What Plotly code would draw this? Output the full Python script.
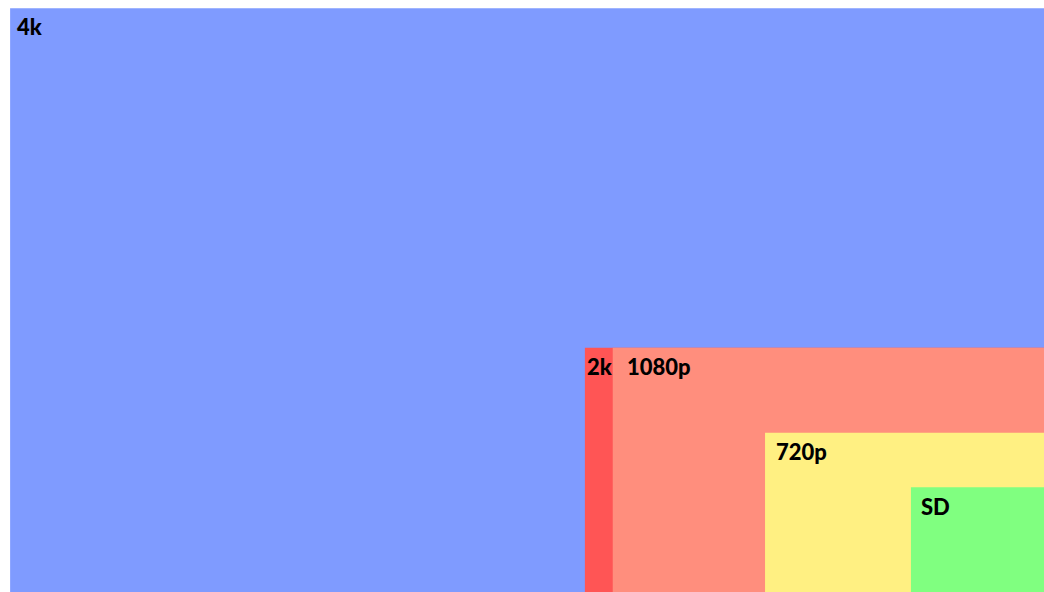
import plotly.graph_objects as go

# Data (resolution units; rectangles anchored bottom-right)
labels = ["4k", "2k", "1080p", "720p", "SD"]
widths = [4452, 2037, 1920, 1280, 667]
heights = [2518, 1080, 1080, 720, 489]
colors = ["#7f9bff", "#ff5555", "#ff8e7d", "#fff082", "#80ff80"]

# label offsets in pixels (layout only)
label_dx = [5, 0, 12, 9, 8]
label_dy = [-3, -3, -3, -3, -4]

fig = go.Figure()
for lab, w, h, c in zip(labels, widths, heights, colors):
    fig.add_trace(go.Scatter(
        x=[-w, 0, 0, -w, -w], y=[0, 0, h, h, 0],
        mode="lines", fill="toself", fillcolor=c,
        line=dict(width=0, color=c), hoverinfo="text", text=lab,
        name=lab, showlegend=False,
    ))

for lab, w, h, dx, dy in zip(labels, widths, heights, label_dx, label_dy):
    fig.add_annotation(
        x=-w, y=h, text=lab, showarrow=False,
        xanchor="left", yanchor="top", xshift=dx, yshift=dy,
        font=dict(family="Lato", size=22, color="#000000", weight=900),
    )

fig.update_layout(
    width=1044, height=592,
    margin=dict(l=10, r=0, t=8, b=0),
    paper_bgcolor="white", plot_bgcolor="white",
    xaxis=dict(range=[-4452.5, -107.9], visible=False, fixedrange=True),
    yaxis=dict(range=[45.3, 2518.6], visible=False, fixedrange=True),
)
fig.write_html(
    "out.html", default_width="1044px", default_height="592px",
    config={"displayModeBar": False},
    post_script="document.body.style.margin='0';document.body.style.overflow='hidden';",
)
